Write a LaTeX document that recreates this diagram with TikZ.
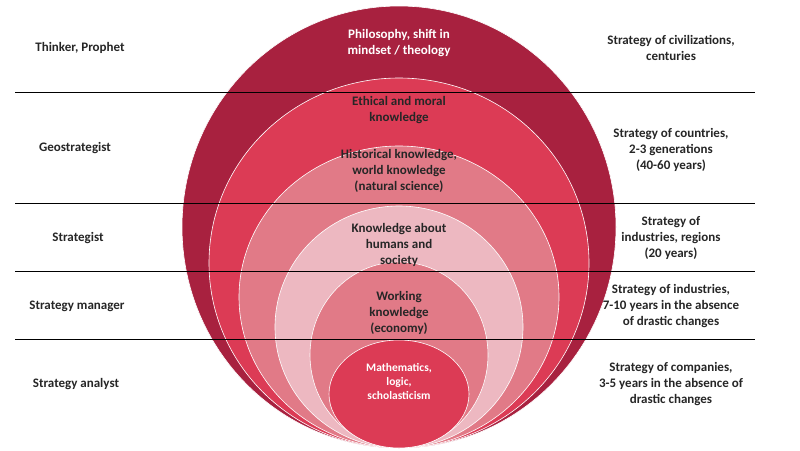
\documentclass[tikz,border=0pt]{standalone}
\usepackage{fontspec}
\setmainfont{Carlito}
\usetikzlibrary{positioning}
\definecolor{ringA}{HTML}{A8213F}
\definecolor{ringB}{HTML}{DC3B55}
\definecolor{ringC}{HTML}{E17A87}
\definecolor{ringD}{HTML}{EDB8C1}
\tikzset{
  ring/.style={draw=white, line width=0.6pt},
  lbl/.style={align=center, font=\bfseries\fontsize{13}{16}\selectfont, text=black!85},
  wlbl/.style={lbl, text=white},
  sep/.style={black, line width=0.6pt}
}
\begin{document}
\begin{tikzpicture}[x=1pt,y=-1pt]
\useasboundingbox (0,0) rectangle (800,450);
\fill[white] (0,0) rectangle (800,450);
% nested rings, all touching the bottom
\draw[ring, fill=ringA] (399,227) ellipse (217 and 221);
\draw[ring, fill=ringB] (399,263) ellipse (190 and 185);
\draw[ring, fill=ringC] (399,297) ellipse (160 and 151);
\draw[ring, fill=ringD] (399,327) ellipse (124 and 121);
\draw[ring, fill=ringC] (399,355) ellipse (89 and 93);
\draw[ring, fill=ringB] (399,394) ellipse (70 and 54);

% level separators
\coordinate (l1) at (15,92);  \coordinate (r1) at (755,92);
\coordinate (l2) at (15,203); \coordinate (r2) at (755,203);
\coordinate (l3) at (15,271); \coordinate (r3) at (755,271);
\coordinate (l4) at (15,339); \coordinate (r4) at (755,339);
\draw[sep] (l1) -- (r1);
\draw[sep] (l2) -- (r2);
\draw[sep] (l3) -- (r3);
\draw[sep] (l4) -- (r4);

% roles
\node[lbl] (thinker) at (80,48) {Thinker, Prophet};
\node[lbl] (geo) at (75,148) {Geostrategist};
\node[lbl] (strat) at (78,238) {Strategist};
\node[lbl] (manager) at (77,306) {Strategy manager};
\node[lbl] (analyst) at (76,384) {Strategy analyst};

% knowledge
\node[wlbl] (philo) at (399,43) {Philosophy, shift in\\mindset / theology};
\node[lbl] (ethic) at (399,110) {Ethical and moral\\knowledge};
\node[lbl] (hist) at (399,171) {Historical knowledge,\\world knowledge\\(natural science)};
\node[lbl] (human) at (399,245) {Knowledge about\\humans and\\society};
\node[lbl] (work) at (399,313) {Working\\knowledge\\(economy)};
\node[wlbl, font=\bfseries\fontsize{11.5}{14}\selectfont] (math) at (399,381) {Mathematics,\\logic,\\scholasticism};

% horizons
\node[lbl] (civ) at (671,48) {Strategy of civilizations,\\centuries};
\node[lbl] (cntry) at (671,150) {Strategy of countries,\\2-3 generations\\(40-60 years)};
\node[lbl] (indreg) at (671,238) {Strategy of\\industries, regions\\(20 years)};
\node[lbl] (ind) at (671,306) {Strategy of industries,\\7-10 years in the absence\\of drastic changes};
\node[lbl] (comp) at (671,384) {Strategy of companies,\\3-5 years in the absence of\\drastic changes};
\end{tikzpicture}
\end{document}
